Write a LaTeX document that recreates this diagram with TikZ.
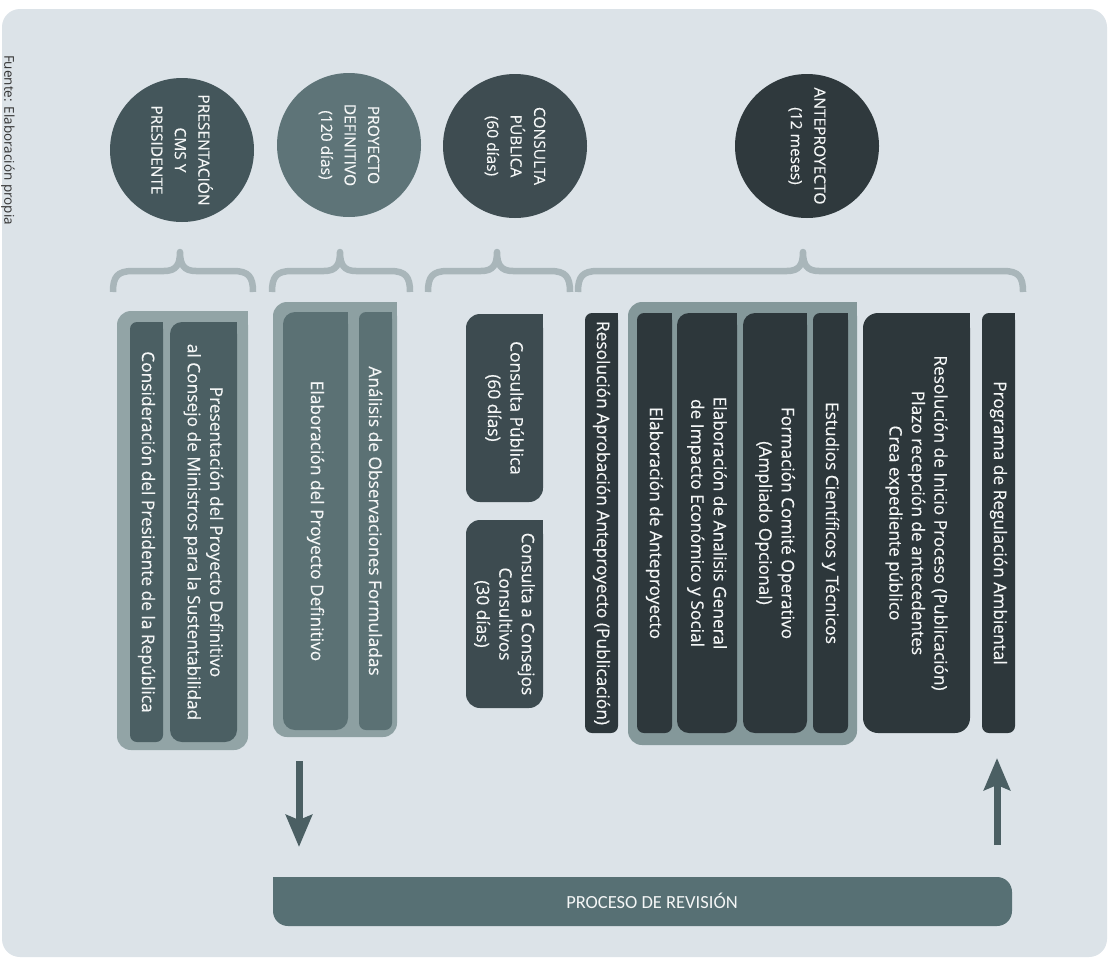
\documentclass[tikz,border=0pt]{standalone}
\usepackage{fontspec}
\setmainfont{Open Sans}
\newfontface\barfont{Open Sans}[FakeBold=0.3]
\newfontfamily\procfont{Carlito}
\usetikzlibrary{arrows.meta}
\definecolor{bgcol}{HTML}{DCE3E8}
\definecolor{cone}{HTML}{44565B}
\definecolor{ctwo}{HTML}{5E7478}
\definecolor{cthree}{HTML}{3E4C51}
\definecolor{cfour}{HTML}{2F393D}
\definecolor{grpA}{HTML}{92A4A6}
\definecolor{barA}{HTML}{4B5F63}
\definecolor{grpB}{HTML}{8DA0A2}
\definecolor{barB}{HTML}{5B7174}
\definecolor{barC}{HTML}{3D4B50}
\definecolor{grpC}{HTML}{84989A}
\definecolor{barD}{HTML}{2D373B}
\definecolor{proccol}{HTML}{577074}
\definecolor{arrcol}{HTML}{4B5F63}
\definecolor{bracecol}{HTML}{A9B6BA}
\definecolor{txtcol}{HTML}{F4F6F6}
\newcommand\tabnode[8]{%
  \node[tabbase, fill=#2, rounded corners=#7pt, minimum width={(#6-#4)*1pt}, minimum height={(#5-#3)*1pt}] (#1) at ({(#3+#5)/2},{(#4+#6)/2}) {#8};
  \fill[#2] (#1.north west) rectangle ++(-#7,#7);}
\newcommand\curlybrace[3]{%
  \draw[bracestyle] (#1,292) .. controls (#1,277) and (#1+4,271) .. (#1+20,271) -- (#2-16,271) .. controls (#2-4,271) and (#2,265) .. (#2,252) .. controls (#2,265) and (#2+4,271) .. (#2+16,271) -- (#3-20,271) .. controls (#3-4,271) and (#3,277) .. (#3,292);}
\begin{document}
\begin{tikzpicture}[x=1pt,y=-1pt,
  tabbase/.style={rectangle, draw=none, inner sep=0pt, outer sep=0pt, rotate=-90, text=txtcol, align=center, font=\barfont\fontsize{17.3}{22.5}\selectfont},
  circ/.style={circle, minimum size=144pt, inner sep=0pt, outer sep=0pt, rotate=-90, text=txtcol, align=center, font=\barfont\fontsize{15.5}{23.5}\selectfont},
  bracestyle/.style={draw=bracecol, line width=6.5pt, line join=round},
  arr/.style={draw=arrcol, line width=7pt, -{Stealth[length=32pt,width=26pt,inset=5pt]}}]
\useasboundingbox (0,0) rectangle (1110,964);
\fill[white] (0,0) rectangle (1110,964);
\fill[bgcol, rounded corners=18pt] (2,9) rectangle (1107,957);
\node[rotate=-90, anchor=base, text=black!80, font=\fontsize{13.5}{16}\selectfont, inner sep=0pt] (fuente) at (4.5,140) {Fuente: Elaboración propia};
% circles
\node[circ, fill=cone] (cpres) at (182,150) {PRESENTACIÓN\\CMS Y\\PRESIDENTE};
\node[circ, fill=ctwo] (cproy) at (349,145) {PROYECTO\\DEFINITIVO\\(120 días)};
\node[circ, fill=cthree] (ccons) at (515,146) {CONSULTA\\PÚBLICA\\(60 días)};
\node[circ, fill=cfour] (cante) at (807,146) {ANTEPROYECTO\\(12 meses)};
% braces
\curlybrace{113}{180}{253}
\curlybrace{272}{340}{410}
\curlybrace{428}{497}{570}
\curlybrace{578}{803}{1023}
% bars
\tabnode{gA}{grpA}{117}{311}{248}{750}{14}{}
\tabnode{bCons}{barA}{130}{322}{163}{742}{7}{Consideración del Presidente de la República}
\tabnode{bPres}{barA}{170}{322}{237}{742}{12}{Presentación del Proyecto Definitivo\\al Consejo de Ministros para la Sustentabilidad}
\tabnode{gB}{grpB}{273}{302}{397}{737}{14}{}
\tabnode{bElab}{barB}{283}{312}{348}{730}{12}{Elaboración del Proyecto Definitivo}
\tabnode{bAnal}{barB}{359}{312}{392}{730}{7}{Análisis de Observaciones Formuladas}
\tabnode{bCP}{barC}{466}{314}{543}{502}{14}{Consulta Pública\\(60 días)}
\tabnode{bCC}{barC}{466}{520}{543}{708}{14}{Consulta a Consejos\\Consultivos\\(30 días)}
\tabnode{bRes}{barD}{585}{313}{618}{733}{7}{Resolución Aprobación Anteproyecto (Publicación)}
\tabnode{gC}{grpC}{628}{302}{857}{745}{14}{}
\tabnode{bEA}{barD}{637}{313}{672}{733}{7}{Elaboración de Anteproyecto}
\tabnode{bEG}{barD}{677}{313}{737}{733}{12}{Elaboración de Analisis General\\de Impacto Económico y Social}
\tabnode{bFC}{barD}{743}{313}{807}{733}{12}{Formación Comité Operativo\\(Ampliado Opcional)}
\tabnode{bEC}{barD}{813}{313}{848}{733}{7}{Estudios Científicos y Técnicos}
\tabnode{bRI}{barD}{863}{313}{970}{733}{15}{Resolución de Inicio Proceso (Publicación)\\Plazo recepción de antecedentes\\Crea expediente público}
\tabnode{bPR}{barD}{982}{313}{1015}{733}{7}{Programa de Regulación Ambiental}
% revision bar
\node[rectangle, fill=proccol, rounded corners=15pt, inner sep=0pt, outer sep=0pt, minimum width=739pt, minimum height=49pt] (proc) at (642.5,901.5) {};
\fill[proccol] (proc.north west) rectangle ++(15,15);
\node[text=txtcol, font=\procfont\fontsize{18.5}{20}\selectfont, inner sep=0pt] (proctxt) at (652,901) {PROCESO DE REVISIÓN};
% arrows
\coordinate (dstart) at (299,761);
\coordinate (dend) at (299,847);
\coordinate (ustart) at (997,845);
\coordinate (uend) at (997,758);
\draw[arr] (dstart) -- (dend);
\draw[arr] (ustart) -- (uend);
\end{tikzpicture}
\end{document}
